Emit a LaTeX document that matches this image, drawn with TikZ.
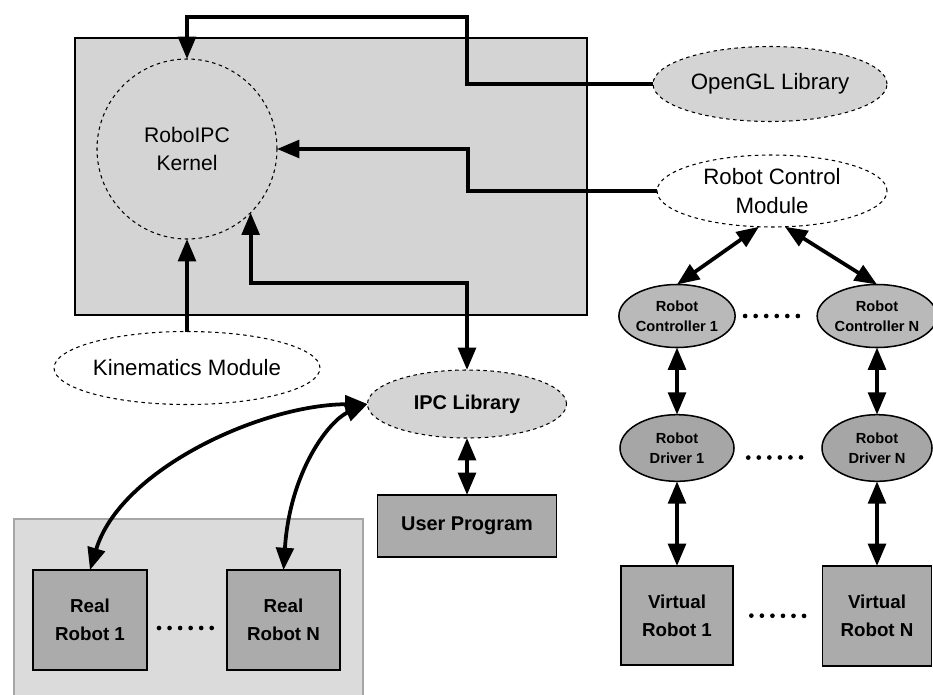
\documentclass[tikz,border=0pt]{standalone}
\usepackage{fontspec}
\setmainfont{Liberation Sans}
\usetikzlibrary{shapes.geometric,arrows.meta}
\begin{document}
\begin{tikzpicture}[x=0.03cm,y=-0.03cm,
  >={Triangle[length=19pt,width=15pt]},
  conn/.style={line width=3.2pt},
  lightfill/.style={fill=gray!34},
  ellw/.style={ellipse, draw, dashed, line width=0.9pt, fill=white, inner sep=0pt, outer sep=0pt, align=center, font=\fontsize{19}{24}\selectfont},
  elll/.style={ellw, lightfill},
  ctrl/.style={ellipse, draw, line width=1.3pt, fill=gray!55, inner sep=0pt, outer sep=0pt, align=center, font=\bfseries\fontsize{12.5}{17}\selectfont},
  drv/.style={ctrl, fill=gray!70},
  darkbox/.style={rectangle, draw, line width=1.6pt, fill=gray!66, inner sep=0pt, outer sep=0pt, align=center, font=\bfseries\fontsize{16}{24}\selectfont},
  dotsline/.style={line width=4pt, line cap=round, dash pattern=on 0pt off 9pt}
]
\useasboundingbox (0,0) rectangle (933,694);

% kernel box
\node[rectangle, draw, line width=0.9pt, lightfill, minimum width=15.36cm, minimum height=8.31cm, inner sep=0pt] (kbox) at (331,176.5) {};
\node[circle, draw, dashed, line width=0.9pt, lightfill, minimum size=5.4cm, inner sep=0pt, outer sep=0pt, align=center, font=\fontsize{18}{24}\selectfont] (kernel) at (187,149) {RoboIPC\\Kernel};

% right ellipses
\node[elll, minimum width=7.02cm, minimum height=2.25cm] (opengl) at (770,84) {OpenGL Library};
\node[ellw, minimum width=6.9cm, minimum height=2.16cm] (rcm) at (772,191) {Robot Control\\Module};

% kinematics, ipc, user
\node[ellw, minimum width=6.96cm, minimum height=2.19cm] (kin) at (187,368) {Kinematics Module};
\node[elll, minimum width=5.97cm, minimum height=2.04cm, font=\bfseries\fontsize{17}{22}\selectfont] (ipc) at (467,404) {IPC Library};
\node[darkbox, minimum width=5.37cm, minimum height=1.86cm, font=\bfseries\fontsize{17}{22}\selectfont] (user) at (467,526) {User Program};

% real robots
\node[rectangle, draw=gray!70, line width=0.9pt, fill=gray!28, minimum width=10.47cm, minimum height=6.03cm, inner sep=0pt] (rbox) at (188.5,619.5) {};
\node[darkbox, minimum width=3.42cm, minimum height=3.0cm] (rr1) at (90,620) {Real\\Robot 1};
\node[darkbox, minimum width=3.39cm, minimum height=3.0cm] (rrN) at (283.5,620) {Real\\Robot N};

% controllers, drivers, virtual robots
\node[ctrl, minimum width=3.42cm, minimum height=1.89cm] (c1) at (677,316) {Robot\\Controller 1};
\node[ctrl, minimum width=3.27cm, minimum height=1.89cm] (cN) at (877,316) {Robot\\Controller N};
\node[drv, minimum width=3.42cm, minimum height=2.0cm] (d1) at (677,448) {Robot\\Driver 1};
\node[drv, minimum width=3.3cm, minimum height=2.0cm] (dN) at (877,448) {Robot\\Driver N};
\node[darkbox, minimum width=3.36cm, minimum height=2.97cm] (v1) at (677,615.5) {Virtual\\Robot 1};
\node[darkbox, minimum width=3.27cm, minimum height=3.0cm] (vN) at (877,616) {Virtual\\Robot N};

% connectors to kernel
\draw[conn,->] (opengl.west) -| (467,17) -| (kernel.north);
\draw[conn,->] (rcm.west) -| (468,149) -- (kernel.east);
\draw[conn,->] (kin.north) -- (kernel.south);
\draw[conn,<->] (kernel.-45) -- ++(0,70) -| (ipc.north);

% ipc links
\draw[conn,<->] (ipc.south) -- (user.north);
\draw[conn,<->] (ipc.west) .. controls (260,405) and (120,470) .. (rr1.north);
\draw[conn,<->] (ipc.west) .. controls (330,420) and (290,470) .. (rrN.north);

% robot control chain
\draw[conn,<->] (rcm.250) -- (c1.north);
\draw[conn,<->] (rcm.290) -- (cN.north);
\draw[conn,<->] (c1.south) -- (d1.north);
\draw[conn,<->] (cN.south) -- (dN.north);
\draw[conn,<->] (d1.south) -- (v1.north);
\draw[conn,<->] (dN.south) -- (vN.north);

% ellipsis dots
\draw[dotsline, shorten <=0.3cm, shorten >=0.3cm] (c1.east) -- (cN.west);
\draw[dotsline, shorten <=0.5cm, shorten >=0.5cm] (d1.-10) -- (dN.190);
\draw[dotsline, shorten <=0.55cm, shorten >=0.45cm] (v1.east) -- (vN.west);
\draw[dotsline, shorten <=0.36cm, shorten >=0.36cm] (rr1.-8) -- (rrN.188);
\end{tikzpicture}
\end{document}
